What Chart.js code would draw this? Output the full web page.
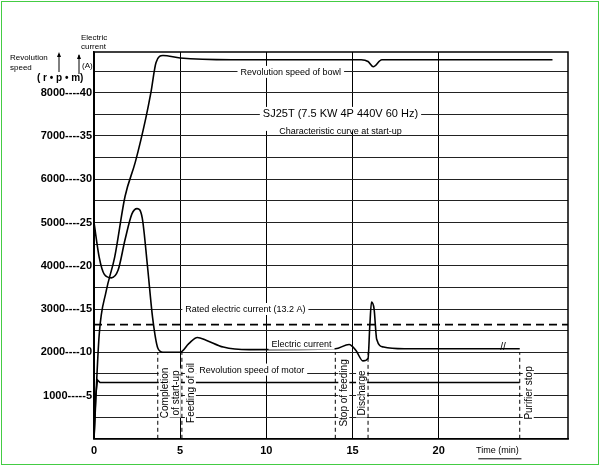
<!DOCTYPE html>
<html><head><meta charset="utf-8">
<script src="https://cdn.jsdelivr.net/npm/chart.js@4"></script>
<style>body{margin:0;background:#fff}#w{position:absolute;left:1px;top:1px;width:596px;height:462px;border:1px solid #4c4}canvas{display:block}</style>
</head><body><div id="w"><canvas id="c" width="596" height="462"></canvas></div>
<script>
const currentX=[0,0.3,0.6,1,1.4,1.8,2.2,2.5,2.8,3.1,3.4,3.7,4,5,5.5,6,6.5,7.5,9,14,14.8,15.2,15.6,15.9,16,16.1,16.25,16.4,16.8,18,24.7];
const currentY=[25,21,19,18.6,19.5,23,26,26.6,25.5,20,14,10.5,10,10,11,11.7,11.4,10.6,10.3,10.4,10.9,10.2,9,9.3,13,15.8,15,11.5,10.6,10.4,10.4];
const bowlX=[0,0.3,0.7,1.2,1.8,2.4,3,3.3,3.6,4,5,8,15.5,15.9,16.2,16.7,26.6];
const bowlY=[0,12,17,21,28,32,37,40,43.5,44.3,44,43.8,43.8,43.6,43.0,43.8,43.8];
const motorX=[0,0.1,0.2,0.35,24.7];
const motorY=[0,5,6.8,6.5,6.5];
const ratedCurrent=13.2;
const events=[3.7,5.1,14.0,15.9,24.7];
const eventLabels=[["Completion","of start-up"],["Feeding of oil"],["Stop of feeding"],["Discharge"],["Purifier stop"]];
const xTicks=[0,5,10,15,20];
const pts=(xs,ys)=>xs.map((x,i)=>({x,y:ys[i]}));
const F='"Liberation Sans", Arial, sans-serif';
const deco={id:'deco',afterDraw(ch){
 const c=ch.ctx,X=ch.scales.x,Y=ch.scales.y;
 c.save();c.fillStyle='#000';c.strokeStyle='#000';
 c.setLineDash([4,3]);c.lineWidth=1;
 events.forEach(e=>{c.beginPath();c.moveTo(X.getPixelForValue(e),Y.getPixelForValue(0));c.lineTo(X.getPixelForValue(e),Y.getPixelForValue(10));c.stroke();});
 c.setLineDash([]);
 c.font='10px '+F;
 const offs=[10,12,12,-3,12];
 events.forEach((e,i)=>{const L=eventLabels[i];c.save();c.translate(X.getPixelForValue(e)+offs[i],Y.getPixelForValue(5.3));c.rotate(-Math.PI/2);c.textAlign='center';
  L.forEach((t,j)=>{const w=c.measureText(t).width;c.fillStyle='#fff';c.fillRect(-w/2-2,j*11-9,w+4,11);c.fillStyle='#000';c.fillText(t,0,j*11);});c.restore();});
 c.textAlign='left';
 const lab=(t,x,y,sz)=>{c.font=(sz||9)+'px '+F;c.textAlign='left';const px=X.getPixelForValue(x),py=Y.getPixelForValue(y);const w=c.measureText(t).width;c.fillStyle='#fff';c.fillRect(px-3,py-6,w+6,12);c.fillStyle='#000';c.fillText(t,px,py+3);};
 lab('Revolution speed of bowl',8.5,42.4,9);
 lab('Rated electric current (13.2 A)',5.3,15,9);
 lab('Electric current',10.3,11,9);
 lab('Revolution speed of motor',6.1,8,9);
 c.font='11px '+F;c.textAlign='center';
 let t1='SJ25T (7.5 KW 4P 440V 60 Hz)',w1=c.measureText(t1).width,px=X.getPixelForValue(14.3);
 c.fillStyle='#fff';c.fillRect(px-w1/2-3,Y.getPixelForValue(37.2)-10,w1+6,24);c.fillStyle='#000';
 c.fillText(t1,px,Y.getPixelForValue(37.2));
 c.font='9px '+F;c.fillText('Characteristic curve at start-up',px,Y.getPixelForValue(35.2));
 c.fillText('Time (min)',X.getPixelForValue(23.4),Y.getPixelForValue(0)+14);
 c.beginPath();c.moveTo(X.getPixelForValue(22.3),Y.getPixelForValue(0)+20);c.lineTo(X.getPixelForValue(24.8),Y.getPixelForValue(0)+20);c.stroke();
 c.textAlign='left';c.font='8px '+F;
 c.fillText('Electric',79,38);c.fillText('current',79,47);c.fillText('Revolution',8,58);c.fillText('speed',8,68);
 c.fillText('(A)',80,66);c.font='bold 10px '+F;c.fillText('( r • p • m)',35,79);
 c.lineWidth=1;c.beginPath();c.moveTo(57,70);c.lineTo(57,52);c.moveTo(77,72);c.lineTo(77,53);c.stroke();
 c.beginPath();c.moveTo(55,55);c.lineTo(57,50);c.lineTo(59,55);c.fill();c.beginPath();c.moveTo(75,57);c.lineTo(77,52);c.lineTo(79,57);c.fill();
 c.font='10px '+F;const bx=X.getPixelForValue(23.8),by=Y.getPixelForValue(10.6);c.fillText('//',bx-4,by+3);
 c.restore();}};
new Chart(document.getElementById('c'),{type:'scatter',
 data:{datasets:[
  {data:pts(currentX,currentY),showLine:true,borderColor:'#000',borderWidth:1.6,pointRadius:0,cubicInterpolationMode:'monotone'},
  {data:pts(bowlX,bowlY),showLine:true,borderColor:'#000',borderWidth:1.6,pointRadius:0,cubicInterpolationMode:'monotone'},
  {data:pts(motorX,motorY),showLine:true,borderColor:'#000',borderWidth:1.6,pointRadius:0},
  {data:[{x:0,y:ratedCurrent},{x:27.5,y:ratedCurrent}],showLine:true,borderColor:'#000',borderWidth:1.6,borderDash:[8,5],pointRadius:0}
 ]},
 options:{responsive:false,animation:false,layout:{padding:{top:50,right:30,left:0,bottom:0}},
  plugins:{legend:{display:false},tooltip:{enabled:false}},
  scales:{
   x:{type:'linear',min:0,max:27.5,afterBuildTicks:a=>{a.ticks=xTicks.map(v=>({value:v}));},
    grid:{color:'#000',lineWidth:1,drawTicks:false},border:{color:'#000',width:1.5},
    ticks:{color:'#000',font:{family:F,size:11,weight:'bold'},padding:6}},
   y:{min:0,max:44.7,afterBuildTicks:a=>{const t=[];for(let v=0;v<=42.5;v+=2.5)t.push({value:v});a.ticks=t;},
    afterFit:a=>{a.width=92;},
    grid:{color:'#222',lineWidth:1,drawTicks:false},border:{color:'#000',width:1.5},
    ticks:{color:'#000',font:{family:F,size:11,weight:'bold'},padding:2,
     callback:v=>(v>0&&v%5===0)?(v*200)+'----'+(v<10?'-':'')+v:''}}
  }},
 plugins:[deco,{id:'rb',afterDraw(ch){const a=ch.chartArea,c=ch.ctx;c.save();c.strokeStyle='#000';c.lineWidth=1.5;c.strokeRect(a.left,a.top,a.right-a.left,a.bottom-a.top);c.restore();}}]
});
</script></body></html>
